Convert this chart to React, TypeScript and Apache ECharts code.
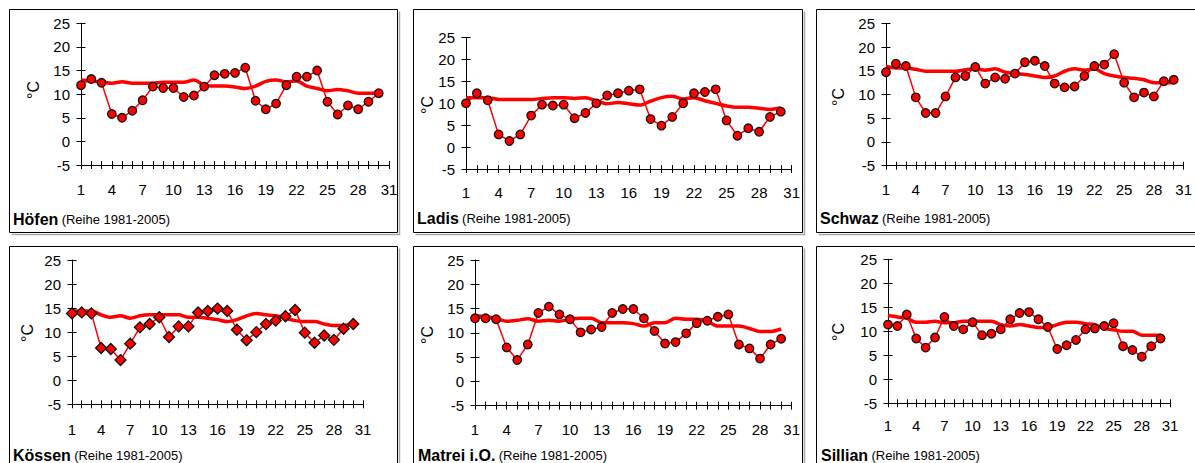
import { useEffect, useRef } from "react";
import * as echarts from "echarts";

// Days of the month (x values) and the labelled ticks on the day axis
const DAYS = [1, 2, 3, 4, 5, 6, 7, 8, 9, 10, 11, 12, 13, 14, 15, 16, 17, 18, 19, 20, 21, 22, 23, 24, 25, 26, 27, 28, 29, 30];
const X_LABEL_DAYS = [1, 4, 7, 10, 13, 16, 19, 22, 25, 28, 31];
const Y_TICKS = [-5, 0, 5, 10, 15, 20, 25];
const SERIES_NOTE = "(Reihe 1981-2005)";
const UNIT = "°C";

// Station names
const STATION_NAMES = ["Höfen", "Ladis", "Schwaz", "Kössen", "Matrei i.O.", "Sillian"];

// Daily mean temperatures (°C) and long-term mean 1981-2005 per station
const hoefenDaily = [11.9, 13.2, 12.4, 5.8, 5.0, 6.5, 8.7, 11.6, 11.3, 11.3, 9.4, 9.7, 11.6, 14.0, 14.3, 14.5, 15.6, 8.6, 6.8, 8.0, 11.9, 13.7, 13.7, 15.0, 8.4, 5.7, 7.6, 6.8, 8.4, 10.2];
const hoefenNormal = [13.0, 12.8, 12.6, 12.3, 12.6, 12.3, 12.3, 12.3, 12.5, 12.5, 12.5, 13.0, 11.9, 11.7, 11.7, 11.5, 11.2, 11.7, 12.7, 13.0, 12.6, 12.8, 11.7, 11.2, 10.7, 11.0, 10.7, 10.2, 10.2, 10.2];

const ladisDaily = [10.0, 12.3, 10.7, 2.9, 1.4, 2.9, 7.2, 9.7, 9.5, 9.7, 6.6, 7.8, 10.0, 11.8, 12.3, 12.9, 13.2, 6.4, 4.9, 6.9, 10.0, 12.3, 12.6, 13.2, 6.1, 2.6, 4.3, 3.5, 6.9, 8.1];
const ladisNormal = [11.3, 11.3, 11.3, 10.9, 10.9, 10.9, 10.9, 11.1, 11.3, 11.3, 11.1, 11.3, 10.6, 9.9, 10.2, 9.9, 9.6, 10.5, 11.3, 11.6, 11.0, 11.3, 10.6, 10.0, 9.4, 9.1, 9.1, 8.9, 8.6, 9.0];

const schwazDaily = [14.7, 16.5, 16.0, 9.4, 6.1, 6.1, 9.6, 13.6, 13.9, 15.8, 12.3, 13.6, 13.3, 14.4, 16.8, 17.1, 16.0, 12.3, 11.5, 11.7, 13.9, 16.0, 16.3, 18.5, 12.5, 9.4, 10.4, 9.6, 12.8, 13.1];
const schwazNormal = [15.9, 15.6, 15.6, 15.3, 14.9, 14.9, 14.9, 14.9, 15.2, 15.4, 15.1, 15.4, 14.7, 14.4, 14.2, 13.9, 13.6, 13.9, 14.9, 15.4, 15.1, 15.4, 14.4, 13.9, 13.6, 13.4, 13.1, 12.5, 12.5, 12.5];

const koessenDaily = [13.9, 14.1, 13.9, 6.7, 6.5, 4.2, 7.6, 11.0, 11.7, 13.1, 9.0, 11.2, 11.2, 14.1, 14.4, 14.9, 14.4, 10.5, 8.3, 10.0, 11.7, 12.4, 13.3, 14.6, 9.9, 7.8, 9.3, 8.4, 10.7, 11.7];
const koessenNormal = [14.4, 14.4, 14.4, 13.6, 13.1, 13.4, 12.9, 13.4, 13.6, 13.6, 13.6, 13.6, 13.1, 13.1, 12.9, 12.6, 12.2, 12.6, 13.4, 13.9, 13.6, 13.4, 12.9, 12.4, 12.2, 12.2, 11.7, 11.4, 11.4, 11.7];

const matreiDaily = [13.0, 13.0, 12.8, 7.0, 4.4, 7.6, 14.1, 15.4, 13.8, 12.8, 10.1, 10.7, 11.2, 14.1, 14.9, 14.9, 13.0, 10.4, 7.8, 8.1, 9.9, 12.0, 12.5, 13.3, 13.8, 7.6, 6.8, 4.7, 7.6, 8.8];
const matreiNormal = [13.6, 13.3, 13.0, 12.4, 12.6, 12.9, 12.4, 12.6, 12.4, 12.8, 13.0, 13.0, 12.1, 12.1, 12.1, 11.9, 11.4, 12.1, 12.1, 13.0, 12.8, 12.8, 12.4, 11.4, 11.4, 11.4, 10.9, 10.3, 10.3, 10.8];

const sillianDaily = [11.4, 11.1, 13.5, 8.5, 6.6, 8.7, 13.0, 11.1, 10.4, 11.9, 9.2, 9.5, 10.4, 12.5, 13.8, 14.0, 12.5, 10.9, 6.3, 7.1, 8.2, 10.4, 10.6, 11.1, 11.7, 6.9, 6.1, 4.7, 6.9, 8.5];
const sillianNormal = [13.3, 13.0, 12.7, 11.9, 11.9, 12.1, 11.8, 11.8, 12.1, 12.1, 12.1, 12.1, 11.4, 11.1, 11.4, 11.1, 10.8, 10.8, 11.4, 11.9, 11.9, 11.6, 11.4, 10.6, 10.3, 10.0, 10.0, 9.2, 9.2, 9.2];

const DAILY = [hoefenDaily, ladisDaily, schwazDaily, koessenDaily, matreiDaily, sillianDaily];
const NORMAL = [hoefenNormal, ladisNormal, schwazNormal, koessenNormal, matreiNormal, sillianNormal];

// Panel geometry (page pixels)
const FONT = "'Liberation Sans', Arial, Helvetica, sans-serif";
const RED = "#ff0000";
const PANELS = [
  { box: [9.5, 9.5, 388, 223], grid: [81, 23.3, 308, 141.7], xMargin: 17, unitPos: [33, 90], titlePos: [13, 219], marker: "circle" },
  { box: [413.5, 9.5, 389, 223], grid: [466, 37.7, 325.7, 131.3], xMargin: 16, unitPos: [427, 105], titlePos: [417, 218], marker: "circle" },
  { box: [816.5, 9.5, 389, 223], grid: [886, 23.3, 309.3, 142.4], xMargin: 16, unitPos: [838, 97], titlePos: [820, 218], marker: "circle" },
  { box: [9.5, 246.5, 388, 230], grid: [72, 260, 291, 144.3], xMargin: 17.5, unitPos: [27, 333], titlePos: [13, 455.5], marker: "diamond" },
  { box: [413.5, 246.5, 389, 230], grid: [475, 260, 316.7, 145.7], xMargin: 16, unitPos: [427, 335], titlePos: [418, 455.5], marker: "circle" },
  { box: [816.5, 246.5, 389, 230], grid: [888, 259.3, 282, 144], xMargin: 14.5, unitPos: [838, 332], titlePos: [821, 455], marker: "circle" },
];

function buildOption() {
  const grids: any[] = [];
  const xAxes: any[] = [];
  const yAxes: any[] = [];
  const series: any[] = [];
  const graphics: any[] = [];

  PANELS.forEach((p, i) => {
    const [gl, gt, gw, gh] = p.grid;
    grids.push({ left: gl, top: gt, width: gw, height: gh, containLabel: false });

    const xBase = {
      gridIndex: i,
      type: "value",
      min: DAYS[0],
      max: X_LABEL_DAYS[X_LABEL_DAYS.length - 1],
      interval: 1,
      position: "bottom",
      splitLine: { show: false },
    };
    // main day axis: line, outward ticks, labels
    xAxes.push({
      ...xBase,
      axisLine: { show: true, onZero: false, lineStyle: { color: "#000", width: 1 } },
      axisTick: { show: true, inside: false, length: 4, lineStyle: { color: "#000", width: 1 } },
      axisLabel: {
        show: true,
        margin: p.xMargin,
        color: "#000",
        fontSize: 15,
        fontFamily: FONT,
        formatter: (v: number) => (X_LABEL_DAYS.includes(v) ? String(v) : ""),
      },
    });
    // companion axis: inward ticks so the marks cross the axis line
    xAxes.push({
      ...xBase,
      axisLine: { show: false, onZero: false },
      axisTick: { show: true, inside: true, length: 4, lineStyle: { color: "#000", width: 1 } },
      axisLabel: { show: false },
    });

    const yBase = {
      gridIndex: i,
      type: "value",
      min: Y_TICKS[0],
      max: Y_TICKS[Y_TICKS.length - 1],
      interval: Y_TICKS[1] - Y_TICKS[0],
      position: "left",
      splitLine: { show: false },
    };
    yAxes.push({
      ...yBase,
      axisLine: { show: true, onZero: false, lineStyle: { color: "#000", width: 1 } },
      axisTick: { show: true, inside: false, length: 4.5, lineStyle: { color: "#000", width: 1 } },
      axisLabel: { show: true, margin: 11, color: "#000", fontSize: 15, fontFamily: FONT },
    });
    yAxes.push({
      ...yBase,
      axisLine: { show: false, onZero: false },
      axisTick: { show: true, inside: true, length: 4.5, lineStyle: { color: "#000", width: 1 } },
      axisLabel: { show: false },
    });

    // long-term mean line
    series.push({
      type: "line",
      xAxisIndex: 2 * i,
      yAxisIndex: 2 * i,
      data: DAYS.map((d, k) => [d, NORMAL[i][k]]),
      showSymbol: false,
      symbol: "none",
      smooth: 0.3,
      lineStyle: { color: RED, width: 3.5 },
      z: 2,
    });
    // daily values
    series.push({
      type: "line",
      xAxisIndex: 2 * i,
      yAxisIndex: 2 * i,
      data: DAYS.map((d, k) => [d, DAILY[i][k]]),
      symbol: p.marker,
      symbolSize: p.marker === "diamond" ? 11 : 8.5,
      lineStyle: { color: RED, width: 1.5 },
      itemStyle: { color: RED, borderColor: "#111", borderWidth: 1.3 },
      z: 3,
    });

    // panel frame with soft shadow on the right and bottom
    const [bx, by, bw, bh] = p.box;
    graphics.push({
      type: "polyline",
      silent: true,
      z: 1,
      shape: { points: [[bx + bw + 2, by + 2], [bx + bw + 2, by + bh + 2], [bx + 2, by + bh + 2]] },
      style: { stroke: "#a8a8a8", lineWidth: 1.5, fill: "none" },
    });
    graphics.push({
      type: "rect",
      silent: true,
      z: 1,
      shape: { x: bx, y: by, width: bw, height: bh },
      style: { stroke: "#000", lineWidth: 1, fill: "none" },
    });

    // unit label
    graphics.push({
      type: "text",
      silent: true,
      z: 5,
      x: p.unitPos[0],
      y: p.unitPos[1],
      rotation: Math.PI / 2,
      style: {
        text: UNIT,
        fill: "#000",
        font: `16px ${FONT}`,
        align: "center",
        verticalAlign: "middle",
      },
    });

    // station caption
    graphics.push({
      type: "text",
      silent: true,
      z: 5,
      x: p.titlePos[0],
      y: p.titlePos[1],
      style: {
        text: `{b|${STATION_NAMES[i]}} {n|${SERIES_NOTE}}`,
        fill: "#000",
        verticalAlign: "middle",
        align: "left",
        rich: {
          b: { fontSize: 16, lineHeight: 15, fontWeight: "bold", fontFamily: FONT, fill: "#000" },
          n: { fontSize: 13, lineHeight: 15, fontFamily: FONT, fill: "#000" },
        },
      },
    });
  });

  return {
    animation: false,
    backgroundColor: "#ffffff",
    grid: grids,
    xAxis: xAxes,
    yAxis: yAxes,
    series,
    graphic: { elements: graphics },
  };
}

export default function App() {
  const ref = useRef<HTMLDivElement | null>(null);

  useEffect(() => {
    if (!ref.current) return;
    const chart = echarts.init(ref.current, undefined, { renderer: "svg" });
    chart.setOption(buildOption() as any);
    return () => chart.dispose();
  }, []);

  return (
    <div
      ref={ref}
      style={{ position: "fixed", left: 0, top: 0, width: 1195, height: 463, background: "#fff" }}
    />
  );
}
